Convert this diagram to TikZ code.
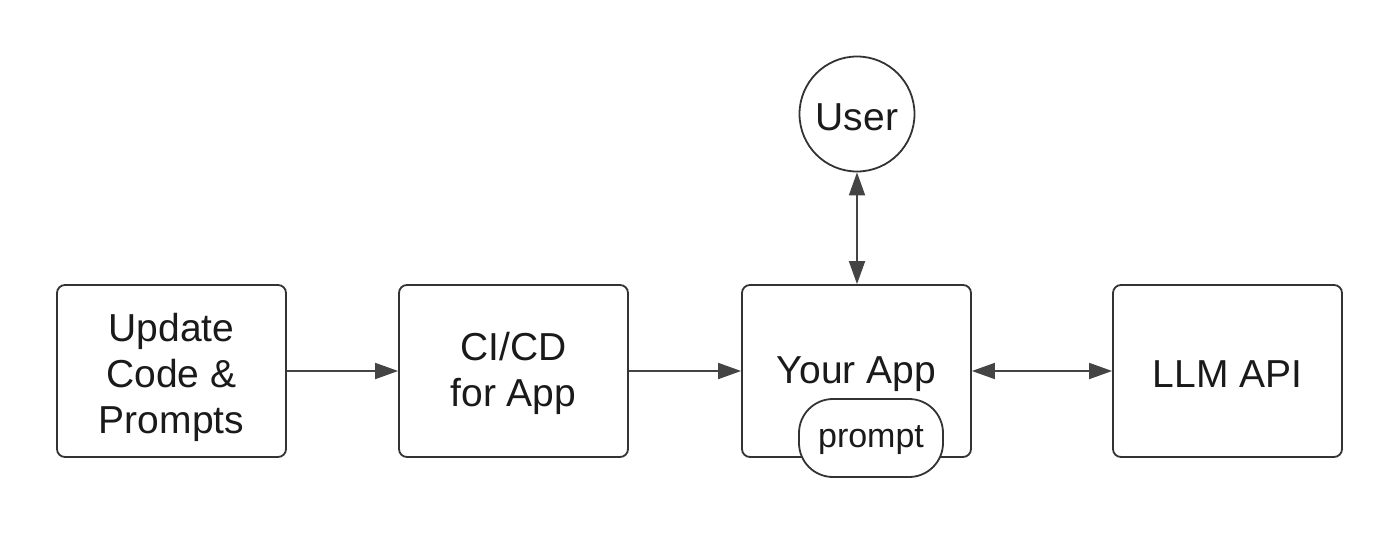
\documentclass[tikz,border=0pt]{standalone}
\usepackage{fontspec}
\setmainfont{Liberation Sans}
\usetikzlibrary{arrows.meta}
\definecolor{edgegray}{HTML}{333333}
\definecolor{arrowgray}{HTML}{444444}
\definecolor{textgray}{HTML}{1A1A1A}
\tikzset{
  procbox/.style={draw=edgegray, line width=1.8pt, rounded corners=8pt, fill=white,
    minimum width=229pt, minimum height=172pt, inner sep=0pt, align=center,
    text=textgray, font=\fontsize{39pt}{46pt}\selectfont},
  boxlabel/.style={text=textgray, align=center, inner sep=0pt,
    font=\fontsize{39pt}{46pt}\selectfont},
  usercircle/.style={draw=edgegray, line width=1.8pt, circle, fill=white,
    minimum size=115pt, inner sep=0pt, text=textgray, font=\fontsize{39pt}{46pt}\selectfont},
  pill/.style={draw=edgegray, line width=1.8pt, rounded corners=34pt, fill=white,
    minimum width=144pt, minimum height=78pt, inner sep=0pt, text=textgray,
    font=\fontsize{34pt}{38pt}\selectfont},
  flow/.style={draw=arrowgray, line width=1.8pt, -{Triangle[length=23pt,width=16pt]}},
  biflow/.style={draw=arrowgray, line width=1.8pt, {Triangle[length=23pt,width=16pt]}-{Triangle[length=23pt,width=16pt]}}
}
\begin{document}
\begin{tikzpicture}[x=1pt,y=-1pt]
\useasboundingbox[fill=white] (0,0) rectangle (1400,533);
\node[procbox] (upd) at (171.5,371) {};
\node[boxlabel] (updtext) at (171.5,377) {Update\\Code \&\\Prompts};
\node[procbox] (cicd) at (513.5,371) {};
\node[boxlabel] (cicdtext) at (513.5,373) {CI/CD\\for App};
\node[procbox] (app) at (856.5,371) {};
\node[boxlabel] (apptext) at (856.5,374) {Your App};
\node[procbox] (llm) at (1227.5,371) {};
\node[boxlabel] (llmtext) at (1227.5,374) {LLM API};
\node[usercircle] (user) at (857,114) {};
\node[boxlabel] (usertext) at (857,117) {User};
\node[pill] (prompt) at (871,438) {};
\node[boxlabel, font=\fontsize{34pt}{38pt}\selectfont] (prompttext) at (871,440) {prompt};
\draw[flow] (upd.east) -- (cicd.west);
\draw[flow] (cicd.east) -- (app.west);
\draw[biflow] (app.east) -- (llm.west);
\draw[biflow] (user.south) -- (app.north -| user.south);
\end{tikzpicture}
\end{document}
